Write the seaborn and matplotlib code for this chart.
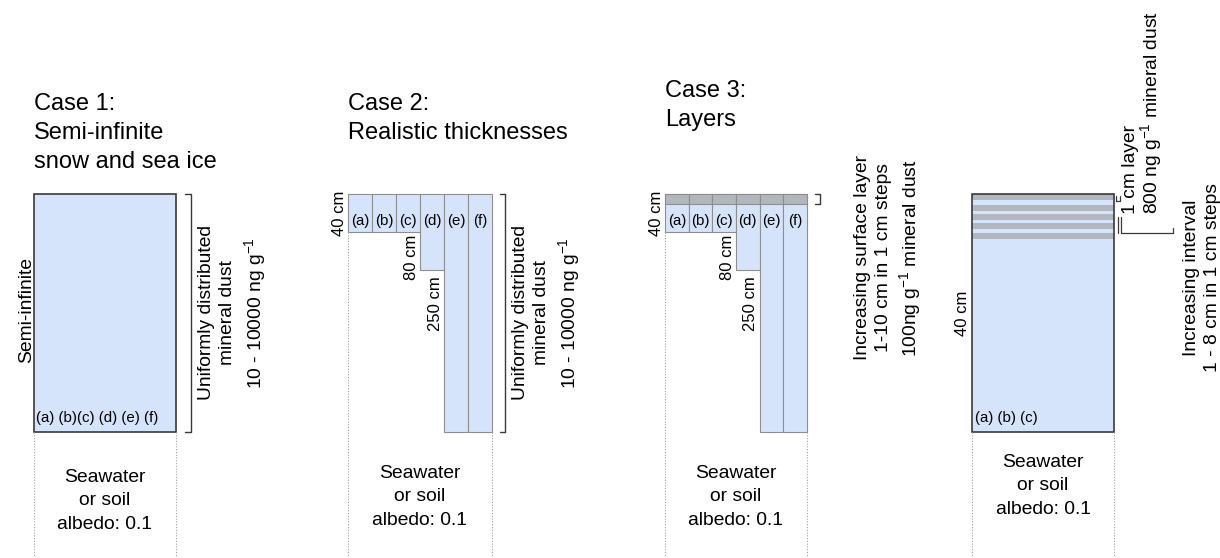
import matplotlib
matplotlib.use("Agg")
import matplotlib.pyplot as plt
import seaborn as sns

# --- data -------------------------------------------------------------
columns = ["(a)", "(b)", "(c)", "(d)", "(e)", "(f)"]
case2_depths = [40, 40, 40, 80, 250, 250]          # cm
case3_depths = [40, 40, 40, 80, 250, 250]          # cm
case3_surface = [10, 10, 10, 10, 10, 10]           # cm, max surface layer
case1_depth = 250                                  # drawn depth of semi-infinite column
case4_depth = 40                                   # cm
case4_layer_tops = [0, 1.8, 3.3, 4.9, 6.5]         # cm
case4_layer_thick = 1                              # cm
depth_labels = ["40 cm", "80 cm", "250 cm"]
titles = ["Case 1:\nSemi-infinite\nsnow and sea ice",
          "Case 2:\nRealistic thicknesses",
          "Case 3:\nLayers"]
bottom_text = "Seawater\nor soil\nalbedo: 0.1"
dust_text = "Uniformly distributed\nmineral dust\n10 - 10000 ng g$^{-1}$"
layer_text = "Increasing surface layer\n1-10 cm in 1 cm steps\n100ng g$^{-1}$ mineral dust"

FILL = "#d6e4fb"
BAND = "#b2b6bf"
EDGE = "#8e8e8e"
DARK = "#3a3a3a"
DOT = "#a0a0a0"

sns.set_theme(style="white")
plt.rcParams["font.family"] = ["Liberation Sans", "DejaVu Sans"]
plt.rcParams["text.color"] = "black"
plt.rcParams["mathtext.fontset"] = "custom"
plt.rcParams["mathtext.rm"] = "Liberation Sans"
plt.rcParams["mathtext.default"] = "regular"

W, H = 1220, 558
TOP = 194
fig = plt.figure(figsize=(W / 100, H / 100), dpi=100)
fig.patch.set_facecolor("white")

BIG, MID, DEPTH, SMALL = 17, 13.9, 12, 10.8
axes = []


def case_axes(left, width, px_per_cm):
    ax = fig.add_axes([left / W, 0, width / W, (H - TOP) / H])
    ax.set_xlim(-0.5, 5.5)
    ax.set_ylim((H - TOP) / px_per_cm, 0)
    ax.set_axis_off()
    axes.append(ax)
    return ax


def dotted(ax, x, y0):
    ax.plot([x, x], [y0, ax.get_ylim()[0]], color=DOT, lw=0.8,
            ls=(0, (1, 1.5)), clip_on=False)


def bracket(ax, x, x_tick, y0, y1):
    ax.plot([x_tick, x, x, x_tick], [y0, y0, y1, y1], color=DARK, lw=1,
            clip_on=False)


# --- case 1 -----------------------------------------------------------
s1 = 238 / case1_depth
ax1 = case_axes(34, 142, s1)
ax1.bar(2.5, case1_depth, width=6, color=FILL, edgecolor=DARK, lw=1.2)
ax1.text(-0.42, 235, "(a) (b)(c) (d) (e) (f)", fontsize=SMALL, va="center",
         ha="left")
ax1.text(-0.82, 122, "Semi-infinite", rotation=90, ha="center", va="center",
         fontsize=MID)
bracket(ax1, 6.13, 5.88, 0, case1_depth)
ax1.text(7.9, 125, dust_text, rotation=90, ha="center", va="center",
         multialignment="center", fontsize=MID, linespacing=1.3)
dotted(ax1, -0.5, case1_depth)
dotted(ax1, 5.5, case1_depth)
ax1.text(2.5, 322, bottom_text, ha="center", va="center", fontsize=MID,
         linespacing=1.5)

# --- case 2 & 3 -------------------------------------------------------
s2 = 0.952
for left, width, depths, surface in [(348, 144, case2_depths, None),
                                     (665, 142, case3_depths, case3_surface)]:
    ax = case_axes(left, width, s2)
    sns.barplot(x=columns, y=depths, ax=ax, width=1, color=FILL, saturation=1,
                edgecolor=EDGE, linewidth=0.8)
    if surface is not None:
        sns.barplot(x=columns, y=surface, ax=ax, width=1, color=BAND,
                    saturation=1, edgecolor=EDGE, linewidth=0.8)
    ax.set_xlim(-0.5, 5.5)
    ax.set_ylim((H - TOP) / s2, 0)
    ax.set_axis_off()
    for i, c in enumerate(columns):
        ax.text(i, 28.5, c, ha="center", va="center", fontsize=SMALL)
    ax.text(-0.55, depths[0] / 2, depth_labels[0], rotation=90, ha="right",
            va="center", fontsize=DEPTH)
    ax.text(2.45, depths[2] + 3, depth_labels[1], rotation=90, ha="right",
            va="top", fontsize=DEPTH)
    ax.text(3.45, depths[3] + 6, depth_labels[2], rotation=90, ha="right",
            va="top", fontsize=DEPTH)
    dotted(ax, -0.5, depths[0])
    dotted(ax, 5.5, depths[-1])
    ax.text(2.5, 318, bottom_text, ha="center", va="center", fontsize=MID,
            linespacing=1.5)
    if surface is None:
        bracket(ax, 6.04, 5.83, 0, max(depths))
        ax.text(7.8, 125, dust_text, rotation=90, ha="center", va="center",
                multialignment="center", fontsize=MID, linespacing=1.3)
    else:
        bracket(ax, 6.05, 5.84, 0, surface[0])
        ax.text(8.95, 67, layer_text, rotation=90, ha="center", va="center",
                multialignment="center", fontsize=MID, linespacing=1.3)

# --- case 4 -----------------------------------------------------------
s4 = 238 / case4_depth
ax4 = case_axes(972, 142, s4)
ax4.bar(2.5, case4_depth, width=6, color=FILL, edgecolor="none")
ax4.bar([2.5] * len(case4_layer_tops), [case4_layer_thick] * len(case4_layer_tops),
        bottom=case4_layer_tops, width=6, color=BAND, edgecolor="none")
ax4.bar(2.5, case4_depth, width=6, fill=False, edgecolor=DARK, lw=1.2)
ax4.text(-0.37, 37.6, "(a) (b) (c)", fontsize=SMALL, va="center", ha="left")
ax4.text(-0.6, case4_depth / 2, depth_labels[0], rotation=90, ha="right",
         va="center", fontsize=DEPTH)
dotted(ax4, -0.5, case4_depth)
dotted(ax4, 5.5, case4_depth)
ax4.text(2.5, 49, bottom_text, ha="center", va="center", fontsize=MID,
         linespacing=1.5)
# small bracket for the 1 cm layer
ax4.plot([5.58, 5.58, 5.75, 5.75], [0.3, 1.1, 1.1, 0.3], color=DARK, lw=0.9,
         clip_on=False)
# interval bracket
for xx in (5.66, 5.79):
    ax4.plot([xx, xx], [3.9, 6.55], color=DARK, lw=0.9, clip_on=False)
ax4.plot([5.79, 7.99, 7.99], [6.55, 6.55, 5.7], color=DARK, lw=0.9,
         clip_on=False)
ax4.text(6.72, 3.3, "1 cm layer\n800 ng g$^{-1}$ mineral dust", rotation=90,
         ha="center", va="bottom", multialignment="left", fontsize=MID,
         linespacing=0.95)
ax4.text(9.2, 14.1, "Increasing interval\n1 - 8 cm in 1 cm steps",
         rotation=90, ha="center", va="center", multialignment="center",
         fontsize=MID, linespacing=1.3)

for ax in axes:
    for p in ax.patches:
        p.set_clip_on(False)

# --- titles -----------------------------------------------------------
for x, y, t in zip([34, 348, 665], [93, 93, 80], titles):
    fig.text(x / W, 1 - y / H, t, ha="left", va="top", fontsize=BIG,
             linespacing=1.42)

fig.savefig("out.png", dpi=100, facecolor="white")
